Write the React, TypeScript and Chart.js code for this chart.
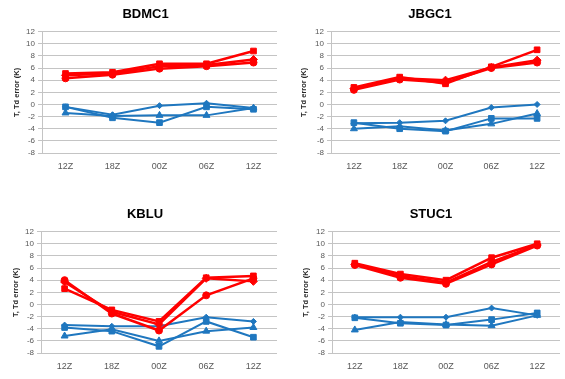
import React, { useEffect, useRef } from "react";
import { Chart, registerables } from "chart.js";

Chart.register(...registerables);

// Forecast hours along the x axis
const hours = ["12Z", "18Z", "00Z", "06Z", "12Z"];

// Y axis range (K)
const yMin = -8;
const yMax = 12;
const yStep = 2;

// BDMC1 — temperature errors (red) and dew point errors (blue)
const bdmc1TSquare = [5.1, 5.3, 6.7, 6.7, 8.8];
const bdmc1TDiamond = [4.8, 5.1, 6.3, 6.5, 7.4];
const bdmc1TCircle = [4.3, 4.9, 5.9, 6.3, 6.9];
const bdmc1TdDiamond = [-0.4, -1.7, -0.2, 0.2, -0.6];
const bdmc1TdSquare = [-0.4, -2.2, -3.0, -0.4, -0.8];
const bdmc1TdTriangle = [-1.4, -1.9, -1.8, -1.8, -0.6];

// JBGC1
const jbgc1TSquare = [2.8, 4.5, 3.4, 6.2, 9.0];
const jbgc1TDiamond = [2.6, 4.3, 4.0, 6.1, 7.3];
const jbgc1TCircle = [2.4, 4.1, 3.6, 6.0, 6.9];
const jbgc1TdDiamond = [-3.1, -3.0, -2.7, -0.5, 0.0];
const jbgc1TdSquare = [-3.0, -4.0, -4.4, -2.3, -2.3];
const jbgc1TdTriangle = [-4.0, -3.6, -4.3, -3.2, -1.5];

// KBLU
const kbluTSquare = [2.6, -0.9, -2.8, 4.4, 4.7];
const kbluTDiamond = [3.7, -1.2, -3.3, 4.3, 3.8];
const kbluTCircle = [4.0, -1.5, -4.3, 1.5, 4.3];
const kbluTdDiamond = [-3.4, -3.6, -3.6, -2.1, -2.8];
const kbluTdSquare = [-3.8, -4.4, -6.9, -2.8, -5.4];
const kbluTdTriangle = [-5.2, -4.1, -6.0, -4.4, -3.8];

// STUC1
const stuc1TSquare = [6.8, 5.0, 4.0, 7.7, 10.0];
const stuc1TDiamond = [6.6, 4.7, 3.6, 7.0, 9.8];
const stuc1TCircle = [6.5, 4.4, 3.4, 6.6, 9.7];
const stuc1TdDiamond = [-2.1, -2.1, -2.1, -0.6, -1.8];
const stuc1TdSquare = [-2.2, -3.1, -3.4, -2.5, -1.4];
const stuc1TdTriangle = [-4.2, -2.9, -3.3, -3.5, -1.8];

const RED = "#ff0000";
const BLUE = "#1f77bf";
const GRID = "#c4c4c4";
const TEXT = "#595959";
const FONT = "'Liberation Sans', Arial, sans-serif";

type PanelSpec = {
  title: string;
  left: number;
  top: number;
  width: number;
  padLeft: number;
  padRight: number;
  axisWidth: number;
  t: [number[], number[], number[]];
  td: [number[], number[], number[]];
};

const panels: PanelSpec[] = [
  { title: "BDMC1", left: 0, top: 0, width: 282, padLeft: 12, padRight: 3, axisWidth: 30,
    t: [bdmc1TSquare, bdmc1TDiamond, bdmc1TCircle], td: [bdmc1TdDiamond, bdmc1TdSquare, bdmc1TdTriangle] },
  { title: "JBGC1", left: 282, top: 0, width: 283, padLeft: 17, padRight: 4, axisWidth: 32,
    t: [jbgc1TSquare, jbgc1TDiamond, jbgc1TCircle], td: [jbgc1TdDiamond, jbgc1TdSquare, jbgc1TdTriangle] },
  { title: "KBLU", left: 0, top: 200, width: 282, padLeft: 11, padRight: 3, axisWidth: 30,
    t: [kbluTSquare, kbluTDiamond, kbluTCircle], td: [kbluTdDiamond, kbluTdSquare, kbluTdTriangle] },
  { title: "STUC1", left: 282, top: 200, width: 283, padLeft: 19, padRight: 4, axisWidth: 31,
    t: [stuc1TSquare, stuc1TDiamond, stuc1TCircle], td: [stuc1TdDiamond, stuc1TdSquare, stuc1TdTriangle] },
];

const PANEL_HEIGHT = 179;

function line(data: number[], color: string, style: any, radius: number, width: number) {
  return {
    data,
    borderColor: color,
    backgroundColor: color,
    borderWidth: width,
    pointStyle: style,
    pointRadius: radius,
    pointBorderWidth: 1,
    pointBorderColor: color,
    pointBackgroundColor: color,
    tension: 0,
  };
}

function Panel({ spec }: { spec: PanelSpec }) {
  const ref = useRef<HTMLCanvasElement | null>(null);

  useEffect(() => {
    if (!ref.current) return;
    const chart = new Chart(ref.current, {
      type: "line",
      data: {
        labels: hours,
        datasets: [
          line(spec.t[0], RED, "rect", 4, 2.5),
          line(spec.t[1], RED, "rectRot", 4, 2.5),
          line(spec.t[2], RED, "circle", 3.5, 2.5),
          line(spec.td[0], BLUE, "rectRot", 3, 2),
          line(spec.td[1], BLUE, "rect", 4, 2),
          line(spec.td[2], BLUE, "triangle", 4, 2),
        ],
      },
      options: {
        animation: false,
        responsive: false,
        layout: { padding: { left: spec.padLeft, right: spec.padRight, top: 0, bottom: 0 } },
        plugins: {
          legend: { display: false },
          tooltip: { enabled: false },
          title: {
            display: true,
            text: spec.title,
            color: "#000000",
            font: { family: FONT, size: 13, weight: "bold" },
            padding: { top: 7, bottom: 9 },
          },
        },
        scales: {
          x: {
            type: "category",
            offset: true,
            grid: { display: false, drawTicks: false, tickLength: 0 },
            border: { display: false },
            ticks: { color: TEXT, font: { family: FONT, size: 9 }, padding: 8, maxRotation: 0, autoSkip: false },
            afterFit: (scale: any) => {
              scale.height = 26;
            },
          },
          y: {
            min: yMin,
            max: yMax,
            grid: { color: GRID, lineWidth: 1, drawTicks: true, tickLength: 4 },
            border: { display: true, color: GRID, width: 1 },
            ticks: {
              stepSize: yStep,
              autoSkip: false,
              color: TEXT,
              font: { family: FONT, size: 8 },
              padding: 3,
            },
            title: {
              display: true,
              text: "T, Td error (K)",
              color: "#262626",
              font: { family: FONT, size: 7.5, weight: "bold" },
              padding: { top: 0, bottom: 0 },
            },
            afterFit: (scale: any) => {
              scale.width = spec.axisWidth;
            },
          },
        },
      } as any,
    });
    return () => chart.destroy();
  }, [spec]);

  return (
    <canvas
      ref={ref}
      width={spec.width}
      height={PANEL_HEIGHT}
      style={{ position: "absolute", left: spec.left, top: spec.top, width: spec.width, height: PANEL_HEIGHT }}
    />
  );
}

export default function App() {
  return (
    <div
      style={{
        position: "absolute",
        left: 0,
        top: 0,
        width: 565,
        height: 379,
        background: "#ffffff",
        overflow: "hidden",
      }}
    >
      {panels.map((p) => (
        <Panel key={p.title} spec={p} />
      ))}
    </div>
  );
}
